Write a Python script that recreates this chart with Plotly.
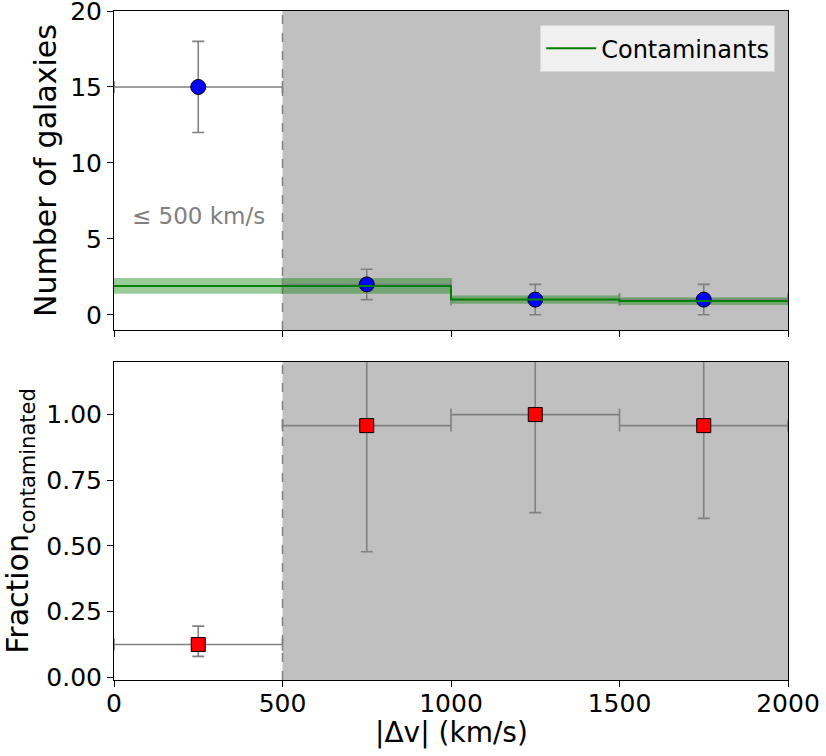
import plotly.graph_objects as go
from plotly.subplots import make_subplots

# ---- data ----
bin_centers = [250, 750, 1250, 1750]
bin_half = [250, 250, 250, 250]
n_gal = [15, 2, 1, 1]
n_gal_err = [3, 1, 1, 1]

contam_edges = [0, 500, 1000, 1500, 2000]
contam_mean = [1.9, 1.9, 1.0, 0.9, 0.9]
contam_err = [0.52, 0.52, 0.27, 0.25, 0.25]

frac = [0.125, 0.958, 1.0, 0.958]
frac_err_lo = [0.045, 0.48, 0.373, 0.353]
frac_err_hi = [0.07, 0.5, 0.5, 0.5]

label_text = "≤ 500 km/s"
x_title = "|Δv| (km/s)"
font_family = "DejaVu Sans"

fig = make_subplots(rows=2, cols=1, shared_xaxes=True, vertical_spacing=0.048)

# shaded regions and dashed line
for r in (1, 2):
    yref = "y domain" if r == 1 else "y2 domain"
    xref = "x" if r == 1 else "x2"
    fig.add_shape(type="rect", xref=xref, yref=yref, x0=500, x1=2000, y0=0, y1=1,
                  fillcolor="#c0c0c0", line_width=0, layer="below")
    fig.add_shape(type="line", xref=xref, yref=yref, x0=500, x1=500, y0=0, y1=1,
                  line=dict(color="gray", width=1.5, dash="dash"), layer="below")

lo = [m - e for m, e in zip(contam_mean, contam_err)]
hi = [m + e for m, e in zip(contam_mean, contam_err)]
fig.add_trace(go.Scatter(x=contam_edges, y=lo, mode="lines", line=dict(width=0, shape="hv"),
                         showlegend=False, hoverinfo="skip"), row=1, col=1)
fig.add_trace(go.Scatter(x=contam_edges, y=hi, mode="lines", line=dict(width=0, shape="hv"),
                         fill="tonexty", fillcolor="rgba(0,128,0,0.4)",
                         showlegend=False, hoverinfo="skip"), row=1, col=1)

# galaxy counts
fig.add_trace(go.Scatter(
    x=bin_centers, y=n_gal, mode="markers",
    marker=dict(color="blue", size=15, line=dict(color="black", width=1)),
    error_x=dict(type="data", array=bin_half, color="gray", thickness=1.6, width=6),
    error_y=dict(type="data", array=n_gal_err, color="gray", thickness=1.6, width=6),
    showlegend=False), row=1, col=1)

fig.add_trace(go.Scatter(x=contam_edges, y=contam_mean, mode="lines",
                         line=dict(color="green", width=2, shape="hv"),
                         name="Contaminants"), row=1, col=1)

# fraction
fig.add_trace(go.Scatter(
    x=bin_centers, y=frac, mode="markers",
    marker=dict(color="red", symbol="square", size=14, line=dict(color="black", width=1)),
    error_x=dict(type="data", array=bin_half, color="gray", thickness=1.6, width=6),
    error_y=dict(type="data", symmetric=False, array=frac_err_hi, arrayminus=frac_err_lo,
                 color="gray", thickness=1.6, width=6),
    showlegend=False), row=2, col=1)

fig.add_annotation(x=250, y=6.5, xref="x", yref="y", text=label_text, showarrow=False,
                   font=dict(size=23, color="gray", family=font_family))
fig.add_annotation(x=0.5, y=-0.0785, xref="paper", yref="paper", text=x_title,
                   showarrow=False, yanchor="middle", xanchor="center",
                   font=dict(size=28, color="black", family=font_family))

axis_common = dict(showline=True, linecolor="black", linewidth=1, mirror=True,
                   ticks="outside", ticklen=6, tickcolor="black", showgrid=False,
                   zeroline=False, tickfont=dict(size=25, color="black", family=font_family),
                   ticklabeloverflow="allow", automargin=False)

fig.update_xaxes(range=[0, 2000], tickvals=[0, 500, 1000, 1500, 2000], **axis_common)
fig.update_xaxes(showticklabels=False, row=1, col=1)
fig.update_xaxes(ticklabelstandoff=-5, row=2, col=1)
fig.update_yaxes(range=[-1, 20], tickvals=[0, 5, 10, 15, 20], row=1, col=1,
                 title=dict(text="Number of galaxies", font=dict(size=30), standoff=4), **axis_common)
fig.update_yaxes(range=[-0.01, 1.2], tickvals=[0, 0.25, 0.5, 0.75, 1.0], tickformat=".2f",
                 row=2, col=1,
                 title=dict(text="Fraction<sub>contaminated</sub>", font=dict(size=30), standoff=8),
                 **axis_common)

fig.update_layout(
    width=826, height=756,
    margin=dict(l=114, r=38, t=11, b=76),
    plot_bgcolor="white", paper_bgcolor="white",
    font=dict(family=font_family, color="black"),
    legend=dict(x=0.981, y=0.979, xanchor="right", yanchor="top",
                bgcolor="rgba(242,242,242,0.95)", bordercolor="#d8d8d8", borderwidth=1,
                font=dict(size=24), itemwidth=50),
)
fig.update_layout(yaxis=dict(domain=[0.5232, 1.0]), yaxis2=dict(domain=[0.0, 0.4753]))

fig.write_html("out.html", config={"displayModeBar": False},
               post_script="document.body.style.margin='0';")
